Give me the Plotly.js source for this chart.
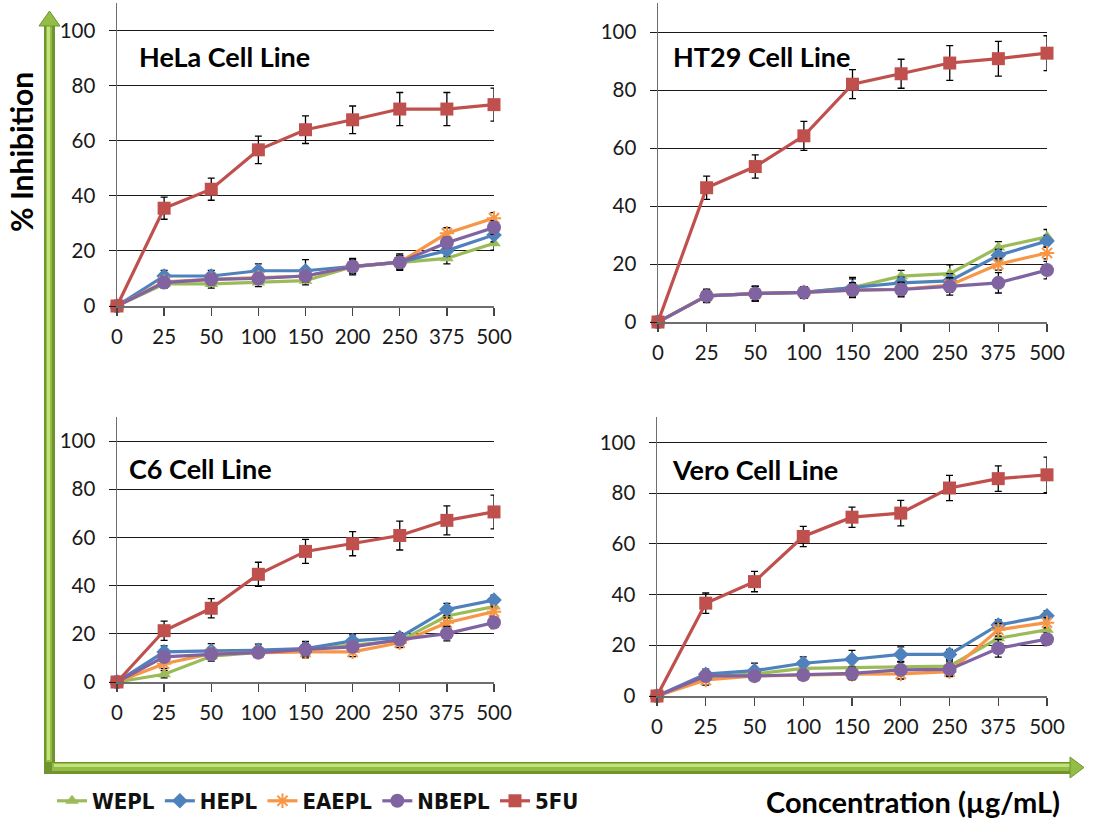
<!DOCTYPE html>
<html>
<head>
<meta charset="utf-8">
<script src="https://cdn.plot.ly/plotly-3.0.1.min.js"></script>
<style>html,body{margin:0;padding:0;background:#fff}#chart{width:1100px;height:822px}</style>
</head>
<body>
<div id="chart"></div>
<script>
// ---------- data ----------
const concentrations = ['0','25','50','100','150','200','250','375','500'];
const seriesNames = ['WEPL','HEPL','EAEPL','NBEPL','5FU'];
const panelTitles = ['HeLa Cell Line','HT29 Cell Line','C6 Cell Line','Vero Cell Line'];
const yTicks = [0,20,40,60,80,100];

// HeLa
const hela_WEPL  = [0, 8.0, 8.0, 8.5, 9.2, 14.3, 15.9, 17.3, 22.8];
const hela_HEPL  = [0, 10.9, 10.9, 12.8, 12.8, 14.3, 15.9, 20.1, 25.8];
const hela_EAEPL = [0, 8.8, 9.7, 10.4, 10.9, 14.3, 15.9, 26.4, 31.9];
const hela_NBEPL = [0, 8.5, 9.7, 10.0, 10.9, 14.3, 15.9, 23.0, 28.5];
const hela_5FU   = [0, 35.5, 42.4, 56.7, 64.0, 67.6, 71.5, 71.5, 73.1];
const hela_WEPL_err  = [0, 1.5, 1.5, 1.5, 1.5, 2.0, 2.0, 2.0, 2.5];
const hela_HEPL_err  = [0, 2.0, 2.0, 2.5, 4.0, 2.5, 3.0, 2.0, 2.5];
const hela_EAEPL_err = [0, 1.5, 2.0, 1.5, 1.5, 2.0, 2.5, 2.0, 2.0];
const hela_NBEPL_err = [0, 1.5, 1.5, 1.5, 1.5, 3.0, 2.5, 2.0, 2.5];
const hela_5FU_err   = [0, 4.0, 4.0, 5.0, 5.0, 5.0, 6.0, 6.0, 6.0];

// HT29
const ht29_WEPL  = [0, 9.0, 9.8, 10.2, 11.9, 15.8, 16.7, 25.7, 29.4];
const ht29_HEPL  = [0, 9.0, 9.8, 10.2, 11.9, 13.5, 14.2, 23.0, 27.9];
const ht29_EAEPL = [0, 9.0, 9.8, 10.2, 11.0, 11.3, 12.7, 19.9, 23.8];
const ht29_NBEPL = [0, 9.0, 9.8, 10.2, 11.0, 11.2, 12.3, 13.5, 17.9];
const ht29_5FU   = [0, 46.3, 53.6, 64.2, 82.0, 85.6, 89.3, 90.8, 92.7];
const ht29_WEPL_err  = [0, 2.0, 2.5, 2.0, 3.5, 2.0, 3.0, 2.0, 2.5];
const ht29_HEPL_err  = [0, 2.0, 2.5, 2.0, 3.0, 2.0, 2.5, 2.0, 2.0];
const ht29_EAEPL_err = [0, 2.0, 2.5, 2.0, 2.5, 2.0, 2.5, 2.0, 2.0];
const ht29_NBEPL_err = [0, 2.3, 2.5, 2.0, 2.5, 2.5, 3.0, 3.5, 3.0];
const ht29_5FU_err   = [0, 4.0, 4.0, 5.0, 5.0, 5.0, 6.0, 6.0, 6.0];

// C6
const c6_WEPL  = [0, 3.2, 10.7, 12.2, 13.5, 15.3, 17.1, 27.4, 31.3];
const c6_HEPL  = [0, 12.5, 12.9, 13.2, 13.9, 17.1, 18.5, 30.1, 34.0];
const c6_EAEPL = [0, 7.6, 11.8, 12.2, 12.5, 12.5, 16.3, 24.6, 29.2];
const c6_NBEPL = [0, 10.4, 11.5, 12.2, 13.5, 14.6, 17.6, 20.1, 24.7];
const c6_5FU   = [0, 21.3, 30.6, 44.7, 54.2, 57.4, 60.8, 67.1, 70.6];
const c6_WEPL_err  = [0, 1.5, 2.0, 2.0, 2.5, 2.0, 2.0, 2.0, 2.0];
const c6_HEPL_err  = [0, 2.5, 3.0, 2.5, 3.0, 2.5, 2.0, 2.5, 2.0];
const c6_EAEPL_err = [0, 2.0, 2.0, 2.0, 2.5, 2.0, 2.0, 2.0, 2.0];
const c6_NBEPL_err = [0, 2.0, 2.0, 2.0, 2.5, 2.0, 2.0, 3.0, 2.5];
const c6_5FU_err   = [0, 4.0, 4.0, 5.0, 5.0, 5.0, 6.0, 6.0, 7.0];

// Vero
const vero_WEPL  = [0, 7.6, 8.7, 10.9, 11.2, 11.6, 11.8, 22.8, 26.1];
const vero_HEPL  = [0, 8.6, 10.0, 12.9, 14.5, 16.4, 16.4, 28.0, 31.6];
const vero_EAEPL = [0, 6.3, 7.9, 8.3, 8.6, 8.7, 9.6, 26.1, 28.9];
const vero_NBEPL = [0, 7.9, 7.9, 8.3, 8.9, 10.3, 10.5, 18.8, 22.4];
const vero_5FU   = [0, 36.6, 45.1, 62.9, 70.5, 72.1, 82.0, 85.7, 87.2];
const vero_WEPL_err  = [0, 2.0, 2.0, 2.0, 2.0, 2.0, 2.0, 2.0, 2.5];
const vero_HEPL_err  = [0, 2.0, 3.0, 2.5, 3.5, 3.0, 2.0, 2.0, 2.0];
const vero_EAEPL_err = [0, 2.0, 2.0, 2.0, 2.0, 2.0, 2.0, 2.5, 2.0];
const vero_NBEPL_err = [0, 2.0, 2.0, 2.0, 2.5, 2.0, 2.5, 3.5, 2.5];
const vero_5FU_err   = [0, 4.0, 4.0, 4.0, 4.0, 5.0, 5.0, 5.0, 7.0];

// ---------- styles ----------
const colors  = {WEPL:'#9BBB59', HEPL:'#4F81BD', EAEPL:'#F79646', NBEPL:'#8064A2', '5FU':'#C0504D'};
const symbols = {WEPL:'triangle-up', HEPL:'diamond', EAEPL:'asterisk-open', NBEPL:'circle', '5FU':'square'};
const msizes  = {WEPL:12, HEPL:12, EAEPL:12, NBEPL:14, '5FU':13};

const panels = [
  {values:[hela_WEPL,hela_HEPL,hela_EAEPL,hela_NBEPL,hela_5FU],
   errs:[hela_WEPL_err,hela_HEPL_err,hela_EAEPL_err,hela_NBEPL_err,hela_5FU_err]},
  {values:[ht29_WEPL,ht29_HEPL,ht29_EAEPL,ht29_NBEPL,ht29_5FU],
   errs:[ht29_WEPL_err,ht29_HEPL_err,ht29_EAEPL_err,ht29_NBEPL_err,ht29_5FU_err]},
  {values:[c6_WEPL,c6_HEPL,c6_EAEPL,c6_NBEPL,c6_5FU],
   errs:[c6_WEPL_err,c6_HEPL_err,c6_EAEPL_err,c6_NBEPL_err,c6_5FU_err]},
  {values:[vero_WEPL,vero_HEPL,vero_EAEPL,vero_NBEPL,vero_5FU],
   errs:[vero_WEPL_err,vero_HEPL_err,vero_EAEPL_err,vero_NBEPL_err,vero_5FU_err]}
];

// layout geometry in pixels (left, right, bottom(y of 0), top(y of 110))
const W = 1100, H = 822;
const boxes = [
  {l:117, r:494, b:306, t:3},
  {l:658, r:1047, b:322, t:3},
  {l:117, r:494, b:682, t:417},
  {l:657, r:1047, b:696, t:417}
];
const px = x => x / W;
const py = y => 1 - y / H;

const traces = [];
panels.forEach((p, i) => {
  const xa = i === 0 ? 'x' : 'x' + (i + 1);
  const ya = i === 0 ? 'y' : 'y' + (i + 1);
  seriesNames.forEach((name, k) => {
    const sym = symbols[name];
    traces.push({
      type:'scatter', mode:'lines+markers', name:name, legendgroup:name,
      showlegend: i === 0,
      x: concentrations, y: p.values[k], xaxis: xa, yaxis: ya,
      cliponaxis:false,
      line:{color:colors[name], width:3.2},
      marker:{symbol:sym, size:msizes[name], color:colors[name],
              line:{color:colors[name], width: sym === 'asterisk-open' ? 2 : 0}},
      error_y:{type:'data', array:p.errs[k], visible:true, color:'#000', thickness:1.3, width:3.5}
    });
  });
});

const tickFont = {family:'Lato, "Open Sans", sans-serif', size:20.5, color:'#1a1a1a'};
const layout = {
  width:W, height:H,
  margin:{l:0, r:0, t:0, b:0},
  paper_bgcolor:'#fff', plot_bgcolor:'#fff',
  showlegend:true,
  legend:{orientation:'h', x:px(52), y:py(801), xanchor:'left', yanchor:'middle',
          bgcolor:'rgba(0,0,0,0)', itemwidth:30, tracegroupgap:0,
          font:{family:'"DejaVu Sans Condensed", "Liberation Sans Narrow", sans-serif', size:22, weight:'bold', color:'#111'}},
  annotations:[],
  shapes:[]
};

boxes.forEach((b, i) => {
  const sfx = i === 0 ? '' : String(i + 1);
  layout['xaxis' + sfx] = {
    domain:[px(b.l), px(b.r)], anchor:'y' + sfx, type:'category',
    range:[0, 8], showgrid:false, zeroline:false,
    showline:true, linecolor:'#6e6e6e', linewidth:1.5,
    ticks:'outside', ticklen:8, tickcolor:'#444', tickwidth:1.3,
    ticklabelstandoff:4, tickfont:tickFont, fixedrange:true
  };
  layout['yaxis' + sfx] = {
    domain:[py(b.b), py(b.t)], anchor:'x' + sfx,
    range:[0, 110], tickvals:yTicks, showgrid:true, gridcolor:'#1a1a1a', gridwidth:1,
    zeroline:false, showline:true, linecolor:'#6e6e6e', linewidth:1.5,
    ticks:'outside', ticklen:7, tickcolor:'#1a1a1a', tickwidth:1,
    ticklabelstandoff:9, tickfont:tickFont, fixedrange:true
  };
});

// panel titles
const titlePos = [[137, 57], [671, 57], [127, 468], [670, 469]];
panelTitles.forEach((t, i) => {
  layout.annotations.push({
    text:t, xref:'paper', yref:'paper', x:px(titlePos[i][0]), y:py(titlePos[i][1]),
    xanchor:'left', yanchor:'middle', showarrow:false,
    font:{family:'Lato, "Open Sans", sans-serif', size:27, weight:'bold', color:'#000'}
  });
});
// axis titles
layout.annotations.push({
  text:'% Inhibition', xref:'paper', yref:'paper', x:px(21), y:py(152),
  xanchor:'center', yanchor:'middle', textangle:-90, showarrow:false,
  font:{family:'Lato, "Open Sans", sans-serif', size:30, weight:'bold', color:'#000'}
});
layout.annotations.push({
  text:'Concentration (µg/mL)', xref:'paper', yref:'paper', x:px(1062), y:py(801),
  xanchor:'right', yanchor:'middle', showarrow:false,
  font:{family:'Lato, "Open Sans", sans-serif', size:29, weight:'bold', color:'#000'}
});

// green arrows (decorative axes)
const gDark = '#6f9430', gMid = '#94bd45', gLight = '#c4e27c';
function rect(x0, y0, x1, y1, color) {
  return {type:'rect', xref:'paper', yref:'paper', x0:px(x0), x1:px(x1), y0:py(y1), y1:py(y0),
          fillcolor:color, line:{width:0}, layer:'above'};
}
function tri(pts, color) {
  const d = 'M ' + pts.map(p => px(p[0]) + ',' + py(p[1])).join(' L ') + ' Z';
  return {type:'path', xref:'paper', yref:'paper', path:d, fillcolor:color, line:{color:gDark, width:1}, layer:'above'};
}
layout.shapes.push(rect(44, 24, 55, 774, gDark));
layout.shapes.push(rect(46, 24, 52, 762, gMid));
layout.shapes.push(rect(47, 24, 50, 760, gLight));
layout.shapes.push(tri([[39, 26], [60, 26], [49.5, 11]], gMid));
layout.shapes.push(rect(44, 762, 1072, 774, gDark));
layout.shapes.push(rect(52, 763, 1072, 771, gMid));
layout.shapes.push(rect(54, 764, 1072, 767, gLight));
layout.shapes.push(tri([[1070, 757], [1070, 778], [1084, 767.5]], gMid));

Plotly.newPlot('chart', traces, layout, {displayModeBar:false, staticPlot:true});
</script>
</body>
</html>
